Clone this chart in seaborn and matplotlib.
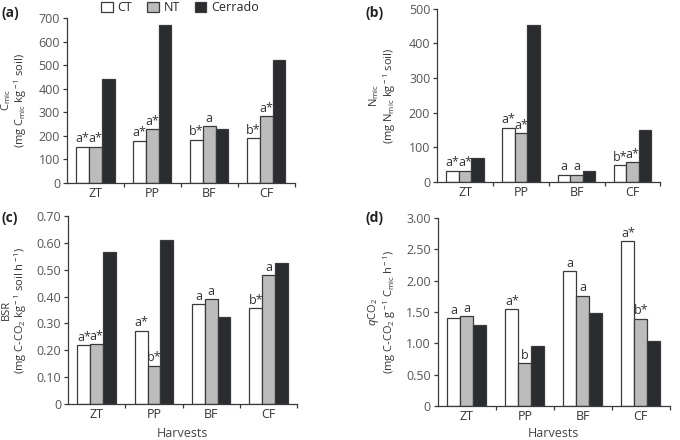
import seaborn as sns
import matplotlib.pyplot as plt
import pandas as pd
from matplotlib.ticker import FixedLocator, NullFormatter, FixedFormatter

harvests = ['ZT', 'PP', 'BF', 'CF']
systems = ['CT', 'NT', 'Cerrado']

# (a) microbial biomass carbon
cmic_ct = [155, 180, 184, 191]
cmic_nt = [155, 228, 240, 284]
cmic_cer = [440, 670, 228, 520]
cmic_ct_lab = ['a*', 'a*', 'b*', 'b*']
cmic_nt_lab = ['a*', 'a*', 'a', 'a*']

# (b) microbial biomass nitrogen
nmic_ct = [33, 157, 22, 49]
nmic_nt = [33, 142, 21, 58]
nmic_cer = [70, 454, 32, 150]
nmic_ct_lab = ['a*', 'a*', 'a', 'b*']
nmic_nt_lab = ['a*', 'a*', 'a', 'a*']

# (c) basal soil respiration
bsr_ct = [0.218, 0.273, 0.372, 0.357]
bsr_nt = [0.222, 0.143, 0.391, 0.480]
bsr_cer = [0.565, 0.612, 0.323, 0.526]
bsr_ct_lab = ['a*', 'a*', 'a', 'b*']
bsr_nt_lab = ['a*', 'b*', 'a', 'a']

# (d) metabolic quotient
qco2_ct = [1.40, 1.54, 2.15, 2.63]
qco2_nt = [1.43, 0.68, 1.76, 1.39]
qco2_cer = [1.29, 0.95, 1.48, 1.03]
qco2_ct_lab = ['a', 'a*', 'a', 'a*']
qco2_nt_lab = ['a', 'b', 'a', 'b*']

yticks_a = [0, 100, 200, 300, 400, 500, 600, 700]
yticks_b = [0, 100, 200, 300, 400, 500]
yticks_c = [0, 0.10, 0.20, 0.30, 0.40, 0.50, 0.60, 0.70]
yticks_d = [0, 0.50, 1.00, 1.50, 2.00, 2.50, 3.00]

palette = {'CT': 'white', 'NT': '#bcbcbc', 'Cerrado': '#2b2c30'}
edge = '#3a3a3a'

sns.set_theme(style='ticks')
plt.rcParams['font.family'] = ['Open Sans', 'DejaVu Sans']
plt.rcParams['mathtext.fontset'] = 'custom'
plt.rcParams['mathtext.rm'] = 'Open Sans'
plt.rcParams['mathtext.it'] = 'Open Sans:italic'


def long_df(ct, nt, cer):
    rows = []
    for s, vals in zip(systems, [ct, nt, cer]):
        for h, v in zip(harvests, vals):
            rows.append({'Harvest': h, 'System': s, 'value': v})
    return pd.DataFrame(rows)


def panel(ax, ct, nt, cer, ct_lab, nt_lab, yticks, yfmt, ylabel, label_x, xlabel_y=None):
    df = long_df(ct, nt, cer)
    sns.barplot(data=df, x='Harvest', y='value', hue='System', order=harvests,
                hue_order=systems, palette=palette, width=0.67, edgecolor=edge,
                linewidth=0.9, saturation=1, ax=ax, legend=True)
    ax.get_legend().remove()
    ax.bar_label(ax.containers[0], labels=ct_lab, padding=1, fontsize=9, color='#333333')
    ax.bar_label(ax.containers[1], labels=nt_lab, padding=1, fontsize=9, color='#333333')

    ax.set_xlim(-0.5, 3.5)
    ax.set_ylim(yticks[0], yticks[-1])
    ax.set_yticks(yticks)
    ax.set_yticklabels([yfmt(t) for t in yticks])
    # ticks between the harvest groups, labels at the group centres
    ax.xaxis.set_major_locator(FixedLocator([0.5, 1.5, 2.5, 3.5]))
    ax.xaxis.set_major_formatter(NullFormatter())
    ax.xaxis.set_minor_locator(FixedLocator([0, 1, 2, 3]))
    ax.xaxis.set_minor_formatter(FixedFormatter(harvests))
    ax.tick_params(axis='x', which='minor', length=0, labelsize=9, labelcolor='#333333', pad=3)
    ax.tick_params(axis='x', which='major', length=3, width=0.9, color=edge)
    ax.tick_params(axis='y', length=3, width=0.9, color=edge, labelsize=9,
                   labelcolor='#555555', pad=2)
    sns.despine(ax=ax)
    for sp in ['left', 'bottom']:
        ax.spines[sp].set_color(edge)
        ax.spines[sp].set_linewidth(0.9)

    ax.set_ylabel(ylabel, fontsize=8, color='#333333', linespacing=1.0)
    ax.yaxis.set_label_coords(label_x, 0.5)
    if xlabel_y is not None:
        ax.set_xlabel('Harvests', fontsize=9, color='#444444')
        ax.xaxis.set_label_coords(0.5, xlabel_y)
    else:
        ax.set_xlabel('')


fig = plt.figure(figsize=(6.8, 4.4), dpi=100)
ax_a = fig.add_axes([0.0985, 0.584, 0.335, 0.375])
ax_b = fig.add_axes([0.643, 0.586, 0.328, 0.394])
ax_c = fig.add_axes([0.100, 0.082, 0.337, 0.427])
ax_d = fig.add_axes([0.644, 0.077, 0.341, 0.428])

int_fmt = lambda t: '%d' % t
dec_fmt = lambda t: '0' if t == 0 else '%.2f' % t

panel(ax_a, cmic_ct, cmic_nt, cmic_cer, cmic_ct_lab, cmic_nt_lab, yticks_a, int_fmt,
      r'C$_{\rm mic}$' + '\n' + r'(mg C$_{\rm mic}$ kg$^{\rm -1}$ soil)', -0.165)
panel(ax_b, nmic_ct, nmic_nt, nmic_cer, nmic_ct_lab, nmic_nt_lab, yticks_b, int_fmt,
      r'N$_{\rm mic}$' + '\n' + r'(mg N$_{\rm mic}$ kg$^{\rm -1}$ soil)', -0.175)
panel(ax_c, bsr_ct, bsr_nt, bsr_cer, bsr_ct_lab, bsr_nt_lab, yticks_c, dec_fmt,
      'BSR\n' + r'(mg C-CO$_{\rm 2}$ kg$^{\rm -1}$ soil h$^{\rm -1}$)', -0.17,
      xlabel_y=-0.122)
panel(ax_d, qco2_ct, qco2_nt, qco2_cer, qco2_ct_lab, qco2_nt_lab, yticks_d, dec_fmt,
      r'$q$CO$_{\rm 2}$' + '\n' + r'(mg C-CO$_{\rm 2}$ g$^{\rm -1}$ C$_{\rm mic}$ h$^{\rm -1}$)',
      -0.172, xlabel_y=-0.11)

# panel tags
for tx, ty, tag in [(2, 13, '(a)'), (366, 13, '(b)'), (2, 218, '(c)'), (366, 218, '(d)')]:
    fig.text(tx / 680, 1 - ty / 440, tag, fontsize=10, fontweight='bold',
             ha='left', va='center', color='#222222')

handles, labels = ax_a.get_legend_handles_labels()
fig.legend(handles, labels, loc='center', bbox_to_anchor=(0.265, 0.982), ncol=3,
           frameon=False, fontsize=9, handlelength=0.9, handleheight=0.9,
           columnspacing=1.2, handletextpad=0.4, borderaxespad=0)

fig.savefig('out.png', dpi=100)
